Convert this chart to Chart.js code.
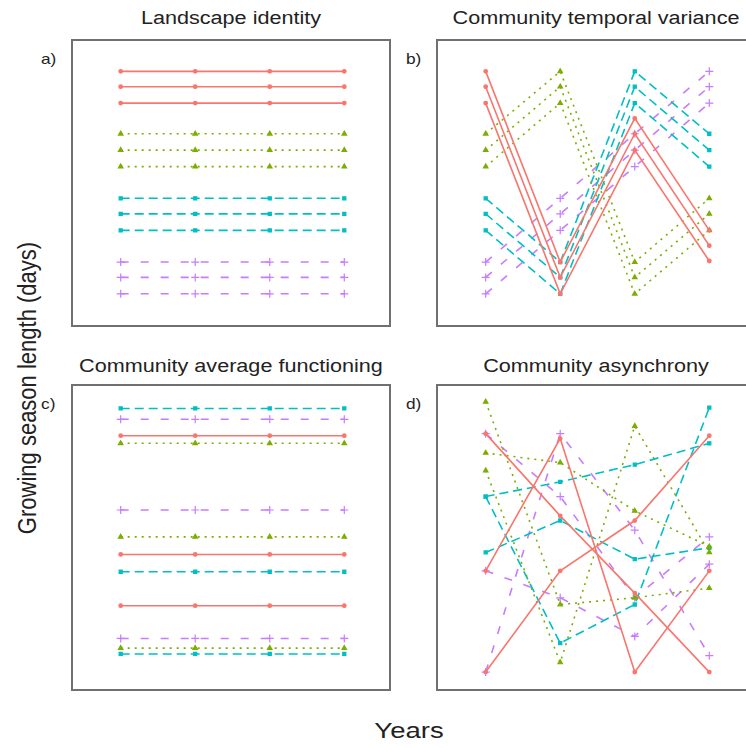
<!DOCTYPE html>
<html>
<head>
<meta charset="utf-8">
<script src="https://cdn.jsdelivr.net/npm/chart.js@4/dist/chart.umd.min.js"></script>
<style>
  html, body { margin: 0; padding: 0; background: #fff; }
  body { width: 746px; height: 748px; position: relative; overflow: hidden;
         font-family: "Liberation Sans", Arial, sans-serif; color: #222; }
  .panel { position: absolute; border: 2px solid #707070; box-sizing: border-box; background: #fff; }
  .panel canvas { display: block; }
  .title { position: absolute; font-size: 18px; white-space: nowrap; transform: translate(-50%, -50%) scaleX(1.2); }
  .tag { position: absolute; font-size: 15px; transform: translateY(-50%) scaleX(1.15); }
  .axis { position: absolute; font-size: 22px; white-space: nowrap; }
</style>
</head>
<body>

<div class="title" style="left:231px; top:18px;">Landscape identity</div>
<div class="title" style="left:596px; top:18px;">Community temporal variance</div>
<div class="title" style="left:231px; top:366px;">Community average functioning</div>
<div class="title" style="left:596px; top:366px;">Community asynchrony</div>

<div class="tag" style="left:42px; top:58px;">a)</div>
<div class="tag" style="left:407px; top:58px;">b)</div>
<div class="tag" style="left:42px; top:403px;">c)</div>
<div class="tag" style="left:407px; top:403px;">d)</div>

<div class="panel" style="left:71px; top:39px; width:320px; height:288px;"><canvas id="chartA"></canvas></div>
<div class="panel" style="left:436px; top:39px; width:320px; height:288px;"><canvas id="chartB"></canvas></div>
<div class="panel" style="left:71px; top:384px; width:320px; height:307px;"><canvas id="chartC"></canvas></div>
<div class="panel" style="left:436px; top:384px; width:320px; height:307px;"><canvas id="chartD"></canvas></div>

<div class="axis" style="left:28px; top:388px; transform: translate(-50%, -50%) rotate(-90deg) scaleY(1.2);">Growing season length (days)</div>
<div class="axis" style="left:409px; top:731px; transform: translate(-50%, -50%) scaleX(1.25);">Years</div>

<script>
// years on the x axis
const years = [1, 2, 3, 4];

// each row is one community; 3 communities per landscape (red, green, teal, purple)
const identity = [
    [90.8, 90.8, 90.8, 90.8], [85.2, 85.2, 85.2, 85.2], [79.2, 79.2, 79.2, 79.2],
    [68.0, 68.0, 68.0, 68.0], [62.0, 62.0, 62.0, 62.0], [56.0, 56.0, 56.0, 56.0],
    [44.4, 44.4, 44.4, 44.4], [38.7, 38.7, 38.7, 38.7], [32.7, 32.7, 32.7, 32.7],
    [21.1, 21.1, 21.1, 21.1], [15.5, 15.5, 15.5, 15.5], [9.5, 9.5, 9.5, 9.5]
];

const variance = [
    [90.8, 21.1, 73.6, 32.7], [85.2, 15.5, 68.0, 27.1], [79.2, 9.5, 62.0, 21.5],
    [68.0, 90.8, 21.1, 44.4], [62.0, 85.2, 15.5, 38.7], [56.0, 79.2, 9.5, 32.7],
    [44.4, 21.1, 90.8, 68.0], [38.7, 15.5, 85.2, 62.0], [32.7, 9.5, 79.2, 56.0],
    [21.1, 44.4, 68.0, 90.8], [15.5, 38.7, 62.0, 85.2], [9.5, 32.7, 56.0, 79.2]
];

const functioning = [
    [84.8, 84.8, 84.8, 84.8], [44.2, 44.2, 44.2, 44.2], [26.7, 26.7, 26.7, 26.7],
    [82.2, 82.2, 82.2, 82.2], [50.2, 50.2, 50.2, 50.2], [12.2, 12.2, 12.2, 12.2],
    [94.1, 94.1, 94.1, 94.1], [38.3, 38.3, 38.3, 38.3], [10.2, 10.2, 10.2, 10.2],
    [90.4, 90.4, 90.4, 90.4], [59.4, 59.4, 59.4, 59.4], [15.5, 15.5, 15.5, 15.5]
];

const asynchrony = [
    [85.5, 57.4, 31.0, 4.0], [38.6, 83.8, 4.0, 38.6], [4.0, 38.6, 55.8, 84.8],
    [96.4, 27.1, 29.4, 32.7], [78.9, 75.6, 59.1, 46.9], [72.9, 7.3, 88.1, 44.9],
    [64.0, 13.9, 27.1, 94.4], [44.9, 55.8, 42.6, 46.5], [64.0, 69.0, 74.9, 82.2],
    [4.0, 85.5, 52.5, 9.6], [85.5, 64.0, 29.4, 50.2], [38.6, 29.4, 16.2, 40.9]
];

// landscape styles (ggplot-like hues, linetypes and shapes)
const colors = ['#F8766D', '#7CAE00', '#00BFC4', '#C77CFF'];
const dashes = [[], [2, 5], [9, 5], [8, 12]];
const shapes = ['circle', 'triangle', 'rect', 'cross'];
const radii = [1.8, 2.6, 2.2, 4];

function buildDatasets(rows) {
    return rows.map((row, i) => {
        const g = Math.floor(i / 3);
        return {
            data: years.map((yr, j) => ({ x: yr, y: row[j] })),
            borderColor: colors[g],
            backgroundColor: colors[g],
            borderWidth: 1.6,
            borderDash: dashes[g],
            pointStyle: shapes[g],
            pointRadius: radii[g],
            pointBorderWidth: 1.2,
            tension: 0,
            clip: false
        };
    });
}

function drawPanel(id, rows, w, h) {
    const ctx = document.getElementById(id);
    ctx.width = w;
    ctx.height = h;
    new Chart(ctx, {
        type: 'line',
        data: { datasets: buildDatasets(rows) },
        options: {
            responsive: false,
            animation: false,
            layout: { padding: 0 },
            plugins: { legend: { display: false }, tooltip: { enabled: false } },
            scales: {
                x: { type: 'linear', display: false, min: 0.43, max: 4.53 },
                y: { display: false, min: 0, max: 100 }
            }
        }
    });
}

drawPanel('chartA', identity, 316, 284);
drawPanel('chartB', variance, 316, 284);
drawPanel('chartC', functioning, 316, 303);
drawPanel('chartD', asynchrony, 316, 303);
</script>
</body>
</html>
